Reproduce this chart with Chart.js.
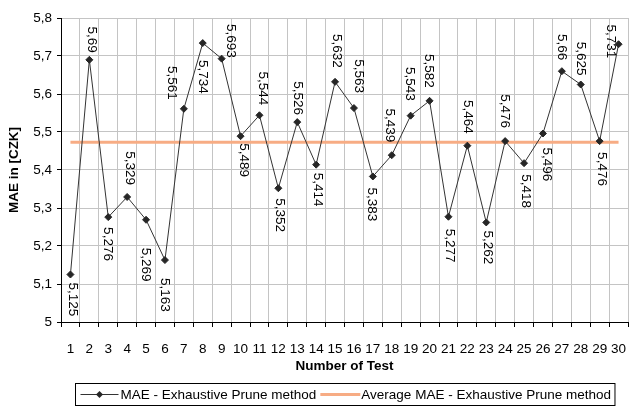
<!DOCTYPE html>
<html>
<head>
<meta charset="utf-8">
<script src="https://cdn.jsdelivr.net/npm/chart.js@4"></script>
<style>
  html, body { margin: 0; padding: 0; background: #fff; }
</style>
</head>
<body>
<canvas id="maeChart" width="633" height="410"></canvas>
<script>
const tests = ['1','2','3','4','5','6','7','8','9','10','11','12','13','14','15',
               '16','17','18','19','20','21','22','23','24','25','26','27','28','29','30'];
const maeValues = [5.125, 5.69, 5.276, 5.329, 5.269, 5.163, 5.561, 5.734, 5.693, 5.489,
                   5.544, 5.352, 5.526, 5.414, 5.632, 5.563, 5.383, 5.439, 5.543, 5.582,
                   5.277, 5.464, 5.262, 5.476, 5.418, 5.496, 5.66, 5.625, 5.476, 5.731];
const averageMae = [5.473, 5.473, 5.473, 5.473, 5.473, 5.473, 5.473, 5.473, 5.473, 5.473,
                    5.473, 5.473, 5.473, 5.473, 5.473, 5.473, 5.473, 5.473, 5.473, 5.473,
                    5.473, 5.473, 5.473, 5.473, 5.473, 5.473, 5.473, 5.473, 5.473, 5.473];
const yMin = 5, yMax = 5.8, yStep = 0.1;

// where each value label sits (as placed in the original workbook)
const labelSide = ['below','above','below','above','below','below','above','below','above','below',
                   'above','below','above','below','above','above','below','above','above','above',
                   'below','above','below','above','below','below','above','above','below','above'];
const labelGap = [8, 7, 10, 12, 28, 18, 9, 17, 1, 7,
                  10, 10, 7, 8, 14, 15, 11, 13, 15, 13,
                  12, 12, 8, 13, 11, 14, 11, 9, 11, -14];
const labelShiftX = [2, 2, -1, 3, 0, 0, -12, 0, 9, 3,
                     3, 1, 0, 2, 2, 5, -1, -2, -1, -1,
                     1, 0, 1, 0, 2, 4, 0, 0, 2, -8];

const FONT = '"Liberation Sans", Arial, sans-serif';
const comma = v => String(Math.round(v * 1000) / 1000).replace('.', ',');

// rotated value labels next to the points
const valueLabels = {
    id: 'valueLabels',
    afterDatasetsDraw(chart) {
        const ctx = chart.ctx;
        const meta = chart.getDatasetMeta(0);
        ctx.save();
        ctx.font = '13.5px ' + FONT;
        ctx.fillStyle = '#000';
        ctx.textBaseline = 'middle';
        meta.data.forEach((pt, i) => {
            const above = labelSide[i] === 'above';
            const y = above ? pt.y - labelGap[i] : pt.y + labelGap[i];
            ctx.save();
            ctx.translate(pt.x + labelShiftX[i], y);
            ctx.rotate(Math.PI / 2);
            ctx.textAlign = above ? 'right' : 'left';
            ctx.fillText(comma(maeValues[i]), 0, 0);
            ctx.restore();
        });
        ctx.restore();
    }
};

// Excel-style legend with a frame
const boxLegend = {
    id: 'boxLegend',
    afterDraw(chart) {
        const ctx = chart.ctx;
        const area = chart.chartArea;
        const ds = chart.data.datasets;
        ctx.save();
        ctx.font = '13.5px ' + FONT;
        const w1 = ctx.measureText(ds[0].label).width;
        const w2 = ctx.measureText(ds[1].label).width;
        const w = 5 + 38 + 2 + w1 + 4 + 40 + 1 + w2 + 4;
        const x0 = Math.round((area.left + area.right) / 2 - w / 2) + 0.5;
        const y0 = 383.5, h = 22, cy = y0 + h / 2;

        ctx.strokeStyle = '#000';
        ctx.lineWidth = 1;
        ctx.strokeRect(x0, y0, w, h);

        let x = x0 + 5;
        ctx.strokeStyle = ds[0].borderColor;
        ctx.beginPath();
        ctx.moveTo(x, cy); ctx.lineTo(x + 38, cy);
        ctx.stroke();
        ctx.fillStyle = ds[0].pointBackgroundColor;
        ctx.beginPath();
        ctx.moveTo(x + 19, cy - 3.5); ctx.lineTo(x + 22.5, cy);
        ctx.lineTo(x + 19, cy + 3.5); ctx.lineTo(x + 15.5, cy);
        ctx.closePath(); ctx.fill();
        x += 40;

        ctx.fillStyle = '#000';
        ctx.textBaseline = 'middle';
        ctx.textAlign = 'left';
        ctx.fillText(ds[0].label, x, cy + 1);
        x += w1 + 4;

        ctx.strokeStyle = ds[1].borderColor;
        ctx.lineWidth = ds[1].borderWidth;
        ctx.beginPath();
        ctx.moveTo(x, cy); ctx.lineTo(x + 40, cy);
        ctx.stroke();
        x += 41;
        ctx.fillText(ds[1].label, x, cy + 1);
        ctx.restore();
    }
};

const ctx = document.getElementById('maeChart').getContext('2d');
const maeChart = new Chart(ctx, {
    type: 'line',
    data: {
        labels: tests,
        datasets: [{
            label: 'MAE - Exhaustive Prune method',
            data: maeValues,
            borderColor: '#333333',
            borderWidth: 1,
            pointStyle: 'rectRot',
            pointRadius: 3.5,
            pointBackgroundColor: '#262626',
            pointBorderColor: '#262626',
            pointBorderWidth: 1,
            tension: 0
        }, {
            label: 'Average MAE - Exhaustive Prune method',
            data: averageMae,
            borderColor: '#F7AC84',
            borderWidth: 3,
            pointRadius: 0,
            tension: 0
        }]
    },
    options: {
        responsive: false,
        animation: false,
        layout: { padding: { top: 18, left: 0, right: 0, bottom: 0 } },
        plugins: {
            legend: { display: false },
            tooltip: { enabled: false }
        },
        scales: {
            x: {
                offset: true,
                grid: { offset: true, color: '#c4c4c4', tickColor: '#000', tickLength: 5 },
                border: { color: '#000' },
                ticks: { color: '#000', font: { family: FONT, size: 13.5 }, padding: 14, maxRotation: 0, autoSkip: false },
                title: {
                    display: true,
                    text: 'Number of Test',
                    color: '#000',
                    font: { family: FONT, size: 13.5, weight: 'bold' },
                    padding: { top: 0, bottom: 36 }
                },
                afterFit(s) { s.height = 88; s.paddingLeft = 0; s.paddingRight = 0; }
            },
            y: {
                min: yMin,
                max: yMax,
                grid: { color: '#c4c4c4', tickColor: '#000', tickLength: 4 },
                border: { color: '#000' },
                ticks: {
                    stepSize: yStep,
                    color: '#000',
                    font: { family: FONT, size: 13.5 },
                    padding: 5,
                    callback: v => String(Math.round(v * 10) / 10).replace('.', ',')
                },
                title: {
                    display: true,
                    text: 'MAE in [CZK]',
                    color: '#000',
                    font: { family: FONT, size: 13.5, weight: 'bold' },
                    padding: { top: 6, bottom: 0 }
                },
                afterFit(s) { s.width = 61; }
            }
        }
    },
    plugins: [valueLabels, boxLegend]
});
</script>
</body>
</html>
